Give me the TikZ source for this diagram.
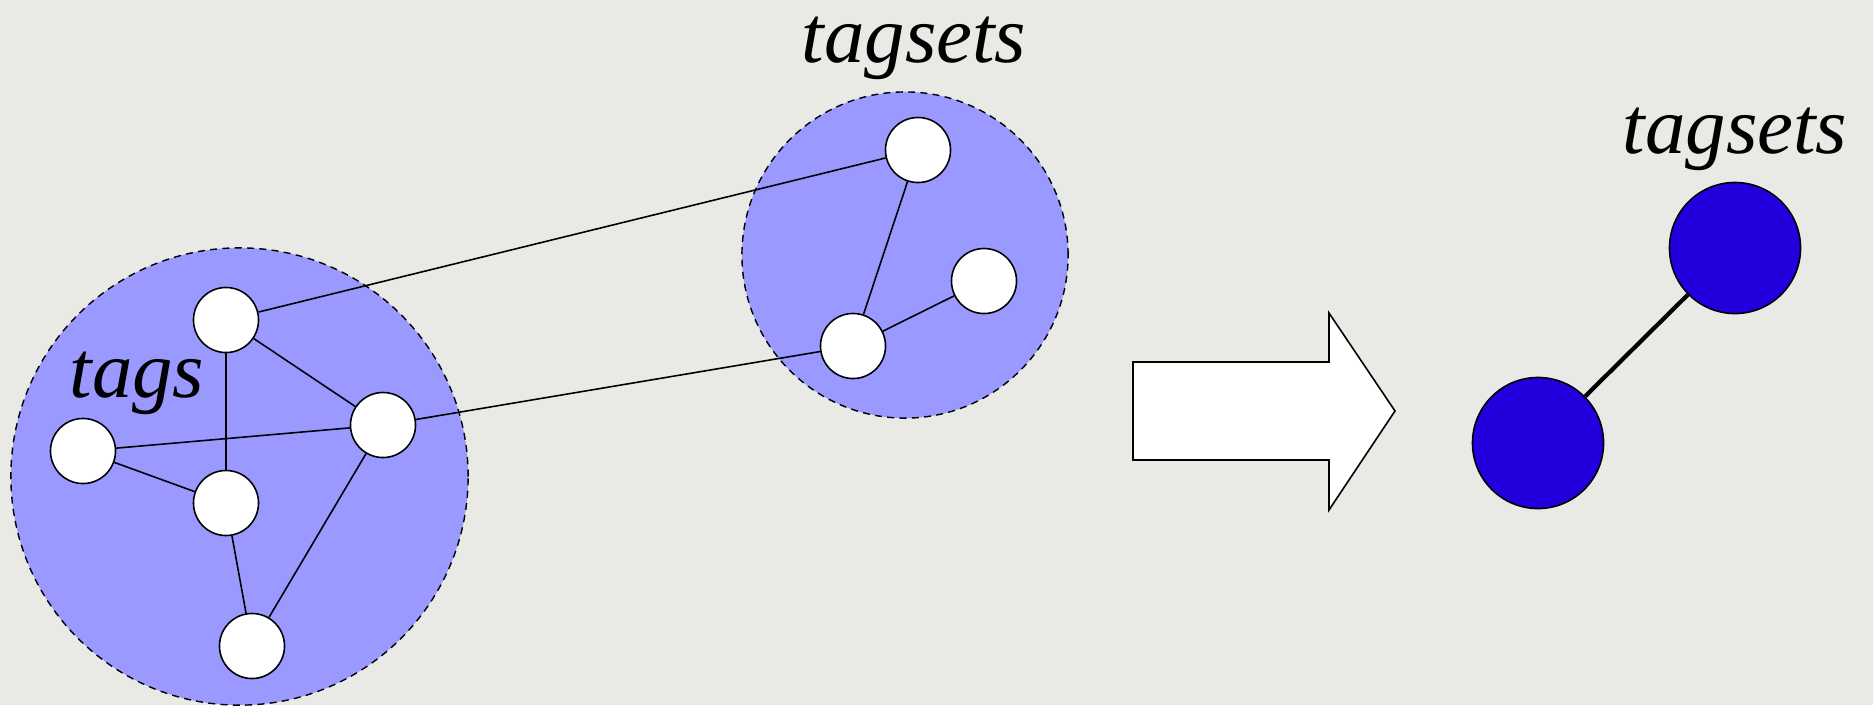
\documentclass[tikz,border=0pt]{standalone}
\usepackage{fontspec}
\setmainfont{Liberation Serif}

\definecolor{backgr}{RGB}{233,233,230}
\definecolor{cloudblue}{RGB}{153,153,255}
\definecolor{setblue}{RGB}{34,0,221}

\newcommand*{\picw}{1873}
\newcommand*{\pich}{705}

\begin{document}
\begin{tikzpicture}
[
	x=0.01cm, y=-0.01cm,
	cloud/.style={circle,draw,fill=cloudblue,inner sep=0pt,line width=0.4pt,dash pattern=on 2pt off 1.5pt},
	tagpt/.style={circle,draw,fill=white,inner sep=0pt,minimum size=0.65cm,line width=0.45pt},
	setpt/.style={circle,draw,fill=setblue,inner sep=0pt,minimum size=1.31cm,line width=0.45pt},
	link/.style={line width=0.45pt},
	lbl/.style={anchor=base,inner sep=0pt,font=\fontsize{23}{28}\selectfont\itshape}
]

	% background
	\useasboundingbox (0,0) rectangle (\picw,\pich);
	\fill[backgr] (0,0) rectangle (\picw,\pich);

	% the two clouds
	\node[cloud,minimum size=4.57cm] at (239.5,476.5) (tagcloud) {};
	\node[cloud,minimum size=3.26cm] at (905,255) (setcloud) {};

	% tags
	\node[tagpt] at (226,320) (ta) {};
	\node[tagpt] at (383,425) (tb) {};
	\node[tagpt] at (83,451) (tc) {};
	\node[tagpt] at (226,503) (td) {};
	\node[tagpt] at (252,646) (te) {};
	\draw[link] (ta) -- (td);
	\draw[link] (ta) -- (tb);
	\draw[link] (tc) -- (tb);
	\draw[link] (tc) -- (td);
	\draw[link] (td) -- (te);
	\draw[link] (tb) -- (te);

	% tagsets
	\node[tagpt] at (918,150) (sa) {};
	\node[tagpt] at (984,281) (sb) {};
	\node[tagpt] at (853,346) (sc) {};
	\draw[link] (sa) -- (sc);
	\draw[link] (sc) -- (sb);

	% tags to tagsets
	\draw[link] (ta) -- (sa);
	\draw[link] (tb) -- (sc);

	% labels
	\node[lbl] at (137,397) (tagslbl) {tags};
	\node[lbl] at (914,62) (setslbl) {tagsets};
	\node[lbl] at (1735,153) (reslbl) {tagsets};

	% big arrow
	\draw[fill=white,line width=0.45pt] (1133,362) -- (1329,362) -- (1329,313) -- (1395,411)
		-- (1329,510) -- (1329,460) -- (1133,460) -- cycle;

	% result
	\node[setpt] at (1538,443) (rlow) {};
	\node[setpt] at (1735,248) (rhigh) {};
	\draw[line width=1.2pt] (rlow) -- (rhigh);

\end{tikzpicture}
\end{document}
